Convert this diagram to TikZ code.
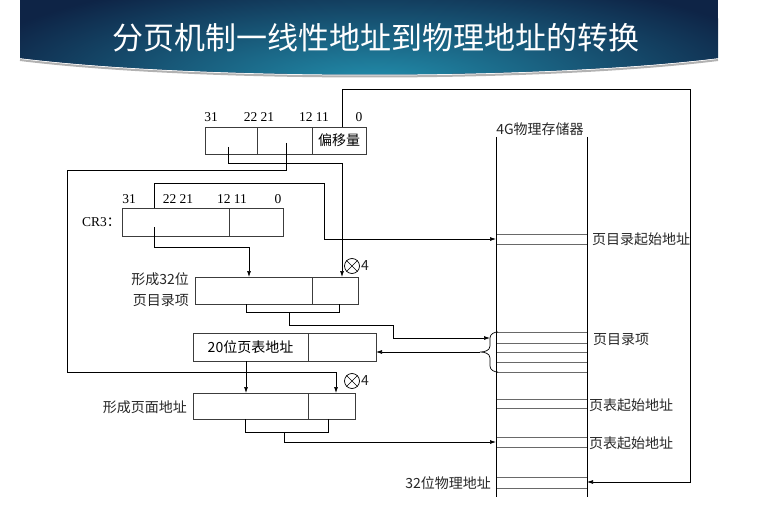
\documentclass[tikz,border=0pt]{standalone}
\usepackage{fontspec}
\setmainfont{Liberation Serif}
\newfontfamily\cjk{Noto Sans CJK SC}
\usetikzlibrary{arrows.meta}
\definecolor{bannerNavy}{RGB}{14,36,70}
\definecolor{bannerTeal}{RGB}{34,142,172}
\definecolor{lineGrey}{RGB}{60,60,60}
\definecolor{slotGrey}{RGB}{105,105,105}

\begin{document}
\begin{tikzpicture}[
  x=1pt, y=-1pt,
  cell/.style={draw=lineGrey, line width=0.8pt, inner sep=0pt, outer sep=0pt,
    minimum height=27pt, anchor=north west, font=\cjk\fontsize{14}{14}\selectfont},
  wire/.style={draw=black, line width=0.7pt},
  arr/.style={wire, -{Latex[length=6pt, width=4pt]}},
  bits/.style={font=\fontsize{13.5}{13.5}\selectfont, inner sep=0pt},
  lbl/.style={font=\cjk\fontsize{14}{14}\selectfont, inner sep=0pt, text=black!85},
  times/.style={draw=black, line width=0.7pt, circle, minimum size=15pt, inner sep=0pt},
  slotline/.style={draw=slotGrey, line width=0.8pt},
]
\useasboundingbox (0,0) rectangle (763,516);

% Banner
\begin{scope}
  \clip (20,0) -- (718,0) -- (718,58) .. controls (540,80) and (200,80) .. (20,58) -- cycle;
  \fill[bannerNavy] (20,0) rectangle (718,80);
  \shade[inner color=bannerTeal, outer color=bannerNavy] (375,82) ellipse [x radius=420, y radius=110];
\end{scope}
\draw[black!30, line width=2pt] (20,60) .. controls (200,82) and (540,82) .. (718,60);
\node[text=white, font=\cjk\fontsize{31}{31}\selectfont] (title) at (376,38) {分页机制一线性地址到物理地址的转换};

% Linear address
\node[cell, minimum width=52pt] (ladir) at (205,127) {};
\node[cell, minimum width=55pt] (latbl) at (257,127) {};
\node[cell, minimum width=54pt] (laoff) at (312,127) {偏移量};
\node[bits] (la31) at (211,117) {31};
\node[bits] (la22) at (259,117) {22 21};
\node[bits] (la12) at (314,117) {12 11};
\node[bits] (la0) at (359,117) {0};

% CR3
\node[cell, minimum width=107pt, minimum height=28pt] (crhi) at (122,208) {};
\node[cell, minimum width=54pt, minimum height=28pt] (crlo) at (229,208) {};
\node[bits, anchor=west] (crcap) at (82,222) {CR3{\cjk ：}};
\node[bits] (cr31) at (129,199) {31};
\node[bits] (cr22) at (178,199) {22 21};
\node[bits] (cr12) at (232,199) {12 11};
\node[bits] (cr0) at (278,199) {0};

% Page directory entry
\node[cell, minimum width=117pt] (pdehi) at (195,277) {};
\node[cell, minimum width=46pt] (pdeoff) at (312,277) {};
\node[lbl, anchor=east] (pdecap1) at (189,279) {形成32位};
\node[lbl, anchor=east] (pdecap2) at (189,301) {页目录项};
\node[times] (mul1) at (352,266) {};
\draw (mul1.north west) -- (mul1.south east) (mul1.north east) -- (mul1.south west);
\node[lbl, anchor=west] (four1) at ([xshift=1pt]mul1.east) {4};

% Page table base
\node[cell, minimum width=115pt, minimum height=28pt] (tblhi) at (193,333) {20位页表地址};
\node[cell, minimum width=68pt, minimum height=28pt] (tbllo) at (308,333) {};

% Page address
\node[cell, minimum width=115pt, minimum height=26pt] (pghi) at (193,393) {};
\node[cell, minimum width=47pt, minimum height=26pt] (pglo) at (308,393) {};
\node[lbl, anchor=east] (pgcap) at (187,407) {形成页面地址};
\node[times] (mul2) at (352,381) {};
\draw (mul2.north west) -- (mul2.south east) (mul2.north east) -- (mul2.south west);
\node[lbl, anchor=west] (four2) at ([xshift=1pt]mul2.east) {4};

% Physical memory
\node[inner sep=0pt, outer sep=0pt, minimum width=91pt, minimum height=360pt, anchor=north west] (mem) at (496,137) {};
\draw[wire] (mem.north west) -- (mem.south west);
\draw[wire] (mem.north east) -- (mem.south east);
\node[lbl, anchor=base] (memtitle) at (540,135) {4G物理存储器};
\foreach \y in {234,244,332,343,352,362,372,399,408,437,447,477,488}
  \draw[slotline] (497,\y) -- (587,\y);
\node[lbl, anchor=west] (pdbaselbl) at (592,239) {页目录起始地址};
\node[lbl, anchor=west] (pdentlbl) at (593,340) {页目录项};
\node[lbl, anchor=west] (ptbaselbl) at (589,405) {页表起始地址};
\node[lbl, anchor=west] (pgbaselbl) at (589,443) {页表起始地址};
\node[lbl, anchor=east] (palbl) at (491,483) {32位物理地址};

\coordinate (memPD) at (496,239);
\coordinate (memPT) at (496,442);
\coordinate (memPA) at (587,482);
\coordinate (braceup) at (490,338);
\coordinate (bracetip) at (480,352);

% Offset
\coordinate (offcol) at (342,89);
\coordinate (offturn) at (690,89);
\draw[arr] (offcol |- laoff.north) -- (offcol) -- (offturn) |- (memPA);

% Directory index
\coordinate (dirtap) at (228,147);
\coordinate (dirturn) at (342,163);
\draw[arr] (dirtap) |- (dirturn) -- (dirturn |- pdeoff.north);

% Table index
\coordinate (tbltap) at (286,143);
\coordinate (tblleft) at (67,170);
\coordinate (tblright) at (336,372);
\draw[arr] (tbltap) |- (tblleft) |- (tblright) -- (tblright |- pglo.north);

% CR3
\coordinate (crtop) at (154,183);
\coordinate (crturn) at (324,183);
\draw[arr] (crtop |- crhi.north) -- (crtop) -- (crturn) |- (memPD);
\coordinate (crtap) at (154,227);
\coordinate (crturn2) at (249,247);
\draw[arr] (crtap) |- (crturn2) -- (crturn2 |- pdehi.north);

% Directory entry to memory
\coordinate (pdeL) at (246,312);
\coordinate (pdeR) at (339,312);
\draw[wire] (pdeL |- pdehi.south) -- (pdeL) -- (pdeR) -- (pdeR |- pdeoff.south);
\coordinate (pdemid) at (289,312);
\coordinate (pdejog) at (393,325);
\draw[arr] (pdemid) |- (pdejog) |- (braceup);

% Brace and table base
\draw[wire] (498,332) to[out=180, in=90] (490,338) -- (490,346) to[out=-90, in=0] (bracetip)
  to[out=0, in=90] (490,358) -- (490,366) to[out=-90, in=180] (498,372);
\draw[arr] (bracetip) -- (tbllo.east |- bracetip);
\draw[arr] (tblhi.south -| pdeL) -- (pghi.north -| pdeL);

% Page address to memory
\coordinate (pgL) at (245,432);
\coordinate (pgR) at (328,432);
\draw[wire] (pgL |- pghi.south) -- (pgL) -- (pgR) -- (pgR |- pglo.south);
\coordinate (pgmid) at (284,432);
\draw[arr] (pgmid) |- (memPT);
\end{tikzpicture}
\end{document}
